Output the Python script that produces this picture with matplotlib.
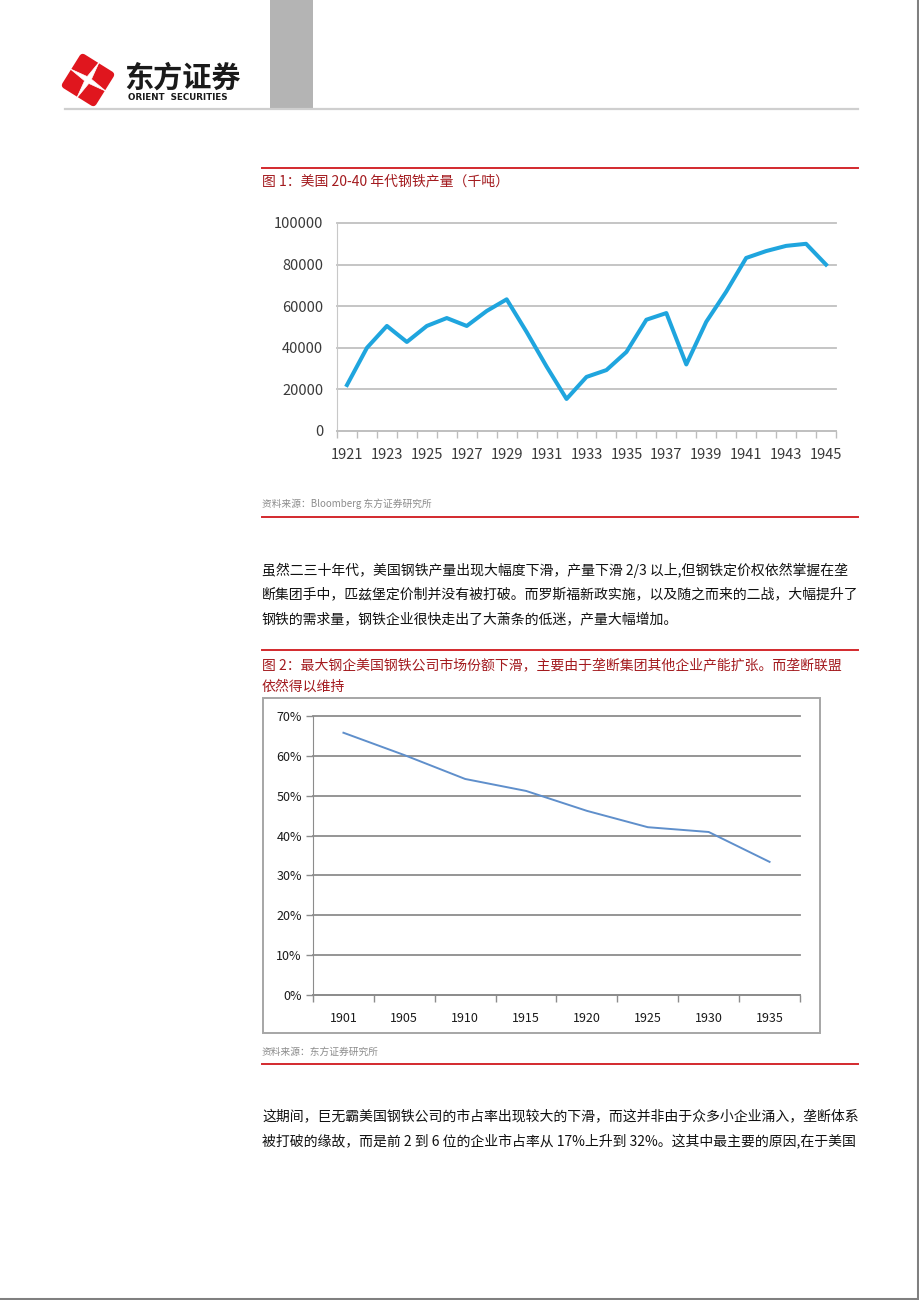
import matplotlib
matplotlib.use('Agg')
import matplotlib.pyplot as plt
import numpy as np
from matplotlib.lines import Line2D
from matplotlib.patches import Rectangle, Polygon

plt.rcParams['font.family'] = ['Noto Sans CJK SC', 'DejaVu Sans']

# chart 1: US steel output, thousand tonnes
years1 = list(range(1921, 1946))
steel = [22100, 40000, 50500, 42800, 50500, 54300, 50500, 57700, 63300, 47600,
         31000, 15400, 26000, 29300, 38000, 53500, 56700, 32000, 52500, 67000,
         83200, 86500, 89000, 90000, 80000]
yticks1 = [0, 20000, 40000, 60000, 80000, 100000]

# chart 2: US Steel market share
years2 = ['1901', '1905', '1910', '1915', '1920', '1925', '1930', '1935']
share = [65.8, 60.2, 54.2, 51.2, 46.2, 42.1, 40.9, 33.4]
yticks2 = [0, 10, 20, 30, 40, 50, 60, 70]

title1 = '图 1：美国 20-40 年代钢铁产量（千吨）'
source1 = '资料来源：Bloomberg 东方证券研究所'
para1 = ['虽然二三十年代，美国钢铁产量出现大幅度下滑，产量下滑 2/3 以上,但钢铁定价权依然掌握在垄',
         '断集团手中，匹兹堡定价制并没有被打破。而罗斯福新政实施，以及随之而来的二战，大幅提升了',
         '钢铁的需求量，钢铁企业很快走出了大萧条的低迷，产量大幅增加。']
title2 = ['图 2：最大钢企美国钢铁公司市场份额下滑，主要由于垄断集团其他企业产能扩张。而垄断联盟',
          '依然得以维持']
source2 = '资料来源：东方证券研究所'
para2 = ['这期间，巨无霸美国钢铁公司的市占率出现较大的下滑，而这并非由于众多小企业涌入，垄断体系',
         '被打破的缘故，而是前 2 到 6 位的企业市占率从 17%上升到 32%。这其中最主要的原因,在于美国']

W, H = 920, 1300
RED = '#D3292D'
DARKRED = '#A31A1E'


def fx(x):
    return x / W


def fy(y):
    return 1 - y / H


def box(l, t, r, b):
    return [l / W, 1 - b / H, (r - l) / W, (b - t) / H]


def hline(fig, x0, x1, y, color, lw):
    fig.add_artist(Line2D([fx(x0), fx(x1)], [fy(y), fy(y)], transform=fig.transFigure,
                          color=color, linewidth=lw))


def text_line(fig, x, y, s, size, color):
    return fig.text(fx(x), fy(y), s, fontsize=size, color=color, va='center', ha='left')


fig = plt.figure(figsize=(9.2, 13), dpi=100)
fig.patch.set_facecolor('white')

# page header
fig.add_artist(Rectangle((fx(270), fy(108)), fx(313) - fx(270), fy(0) - fy(108),
                         transform=fig.transFigure, color='#B4B4B4', linewidth=0))
hline(fig, 65, 858, 108.5, '#CFCFCF', 1.6)

# logo
lax = fig.add_axes(box(60, 52, 116, 108))
lax.set_xlim(0, 56)
lax.set_ylim(56, 0)
lax.axis('off')
cx, cy, th = 28, 28, np.deg2rad(32)
rot = np.array([[np.cos(th), -np.sin(th)], [np.sin(th), np.cos(th)]])
sq = np.array([[-16.5, -16.5], [16.5, -16.5], [16.5, 16.5], [-16.5, 16.5]]) @ rot.T + [cx, cy]
lax.add_patch(Polygon(sq, closed=True, facecolor='#E0161E', edgecolor='#E0161E',
                      linewidth=5, joinstyle='round'))
star = []
for k in range(4):
    a = th + k * np.pi / 2
    star.append([cx + 21 * np.cos(a), cy + 21 * np.sin(a)])
    b = a + np.pi / 4
    star.append([cx + 3.5 * np.cos(b), cy + 3.5 * np.sin(b)])
lax.add_patch(Polygon(star, closed=True, facecolor='white', edgecolor='white', linewidth=0.5))
fig.text(fx(124), fy(78), '东方证券', fontsize=21, fontweight='bold', color='#1A1A1A',
         va='center', ha='left')
fig.text(fx(128), fy(98), 'ORIENT  SECURITIES', fontsize=6.3, fontweight='bold',
         color='#1A1A1A', va='center', ha='left', family='DejaVu Sans')

# figure 1 block
hline(fig, 262, 858, 168, RED, 1.4)
text_line(fig, 262, 181, title1, 10, DARKRED)

ax1 = fig.add_axes(box(337, 223, 836, 431))
x1 = np.arange(len(years1))
ax1.plot(x1, steel, color='#1FA5DE', linewidth=2.9, solid_joinstyle='round')
ax1.set_xlim(-0.5, len(years1) - 0.5)
ax1.set_ylim(0, 100000)
ax1.set_yticks(yticks1)
ax1.set_yticklabels([str(v) for v in yticks1])
ax1.yaxis.grid(True, color='#C0C0C0', linewidth=1.3)
for g in ax1.get_ygridlines():
    g.set_clip_on(False)
ax1.set_axisbelow(True)
ax1.set_xticks(x1[::2])
ax1.set_xticklabels([str(y) for y in years1[::2]])
ax1.set_xticks(np.arange(-0.5, len(years1)), minor=True)
ax1.tick_params(axis='x', which='major', length=0, pad=12, labelsize=10.5, labelcolor='#3A3A3A')
ax1.tick_params(axis='x', which='minor', length=5, color='#BDBDBD', width=1)
ax1.tick_params(axis='y', length=0, pad=10, labelsize=10.5, labelcolor='#3A3A3A')
for s in ['top', 'right']:
    ax1.spines[s].set_visible(False)
ax1.spines['left'].set_color('#C8C8C8')
ax1.spines['bottom'].set_color('#C0C0C0')
ax1.spines['bottom'].set_linewidth(1.3)

text_line(fig, 262, 504, source1, 7, '#8C8C8C')
hline(fig, 262, 858, 517, RED, 1.4)

for i, s in enumerate(para1):
    text_line(fig, 262, 570 + i * 24.5, s, 10, '#111111')

# figure 2 block
hline(fig, 262, 858, 650, RED, 1.4)
for i, s in enumerate(title2):
    text_line(fig, 262, 665 + i * 22, s, 10, DARKRED)

fig.add_artist(Rectangle((fx(263), fy(1033)), fx(820) - fx(263), fy(698) - fy(1033),
                         transform=fig.transFigure, facecolor='none', edgecolor='#A6A6A6',
                         linewidth=1.4))

ax2 = fig.add_axes(box(313, 716, 800, 995))
x2 = np.arange(len(years2))
ax2.plot(x2, share, color='#5F8FCB', linewidth=1.4)
ax2.set_xlim(-0.5, len(years2) - 0.5)
ax2.set_ylim(0, 70)
ax2.set_yticks(yticks2)
ax2.set_yticklabels(['%d%%' % v for v in yticks2])
ax2.yaxis.grid(True, color='#8C8C8C', linewidth=1.3)
for g in ax2.get_ygridlines():
    g.set_clip_on(False)
ax2.set_axisbelow(True)
ax2.set_xticks(x2)
ax2.set_xticklabels(years2)
ax2.set_xticks(np.arange(-0.5, len(years2)), minor=True)
ax2.tick_params(axis='x', which='major', length=0, pad=12, labelsize=9, labelcolor='#1A1A1A')
ax2.tick_params(axis='x', which='minor', length=5, color='#8C8C8C', width=1)
ax2.tick_params(axis='y', length=5, width=1, color='#8C8C8C', pad=3, labelsize=9,
                labelcolor='#1A1A1A')
for s in ['top', 'right']:
    ax2.spines[s].set_visible(False)
ax2.spines['left'].set_color('#8C8C8C')
ax2.spines['bottom'].set_color('#8C8C8C')
ax2.spines['bottom'].set_linewidth(1.3)

text_line(fig, 262, 1052, source2, 7, '#8C8C8C')
hline(fig, 262, 858, 1064, RED, 1.4)

for i, s in enumerate(para2):
    text_line(fig, 262, 1116 + i * 24.5, s, 10, '#111111')

# page edge shadow
fig.add_artist(Line2D([fx(918.5), fx(918.5)], [fy(0), fy(1298.5)], transform=fig.transFigure,
                      color='#808080', linewidth=2.2))
hline(fig, 0, 919.5, 1298.5, '#808080', 2.2)

fig.savefig('out.png', dpi=100, facecolor='white')
